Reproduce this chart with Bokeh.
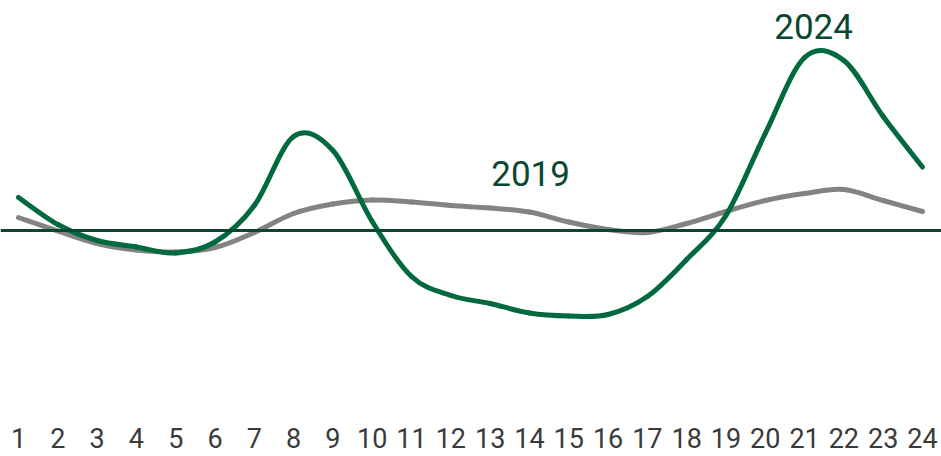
from bokeh.plotting import figure
from bokeh.models import Range1d, Span, Label, FixedTicker, ColumnDataSource
from bokeh.embed import file_html
from bokeh.resources import INLINE
import numpy as np

hours = list(range(1, 25))
tick_labels = [str(h) for h in hours]
series_2024 = [3.3, 0.6, -1.0, -1.65, -2.25, -1.15, 2.5, 9.4, 8.0, 0.9, -4.6, -6.5,
               -7.3, -8.25, -8.55, -8.4, -6.6, -2.9, 1.5, 9.7, 17.3, 17.0, 11.4, 6.35]
series_2019 = [1.3, -0.05, -1.3, -1.95, -2.15, -1.7, -0.2, 1.7, 2.65, 3.05, 2.85, 2.5,
               2.25, 1.85, 0.85, 0.1, -0.2, 0.7, 1.9, 3.0, 3.7, 4.1, 3.0, 1.9]

GREEN = "#00693E"
GRAY = "#838383"
DARK = "#0b4630"


def smooth_source(xs, ys):
    x = np.asarray(xs, dtype=float)
    y = np.asarray(ys, dtype=float)
    xp = np.concatenate([[x[0]], x, [x[-1]]])
    yp = np.concatenate([[y[0]], y, [y[-1]]])
    n = len(x) - 1
    d = dict(x0=[], y0=[], x1=[], y1=[], cx0=[], cy0=[], cx1=[], cy1=[])
    for i in range(n):
        j = i + 1
        d["x0"].append(xp[j]); d["y0"].append(yp[j])
        d["x1"].append(xp[j + 1]); d["y1"].append(yp[j + 1])
        d["cx0"].append(xp[j] + (xp[j + 1] - xp[j - 1]) / 6)
        d["cy0"].append(yp[j] + (yp[j + 1] - yp[j - 1]) / 6)
        d["cx1"].append(xp[j + 1] - (xp[j + 2] - xp[j]) / 6)
        d["cy1"].append(yp[j + 1] - (yp[j + 2] - yp[j]) / 6)
    return ColumnDataSource(d)


p = figure(width=941, height=456, output_backend="svg", toolbar_location=None,
           x_range=Range1d(0.542, 24.484), y_range=Range1d(-18.7, 23.0),
           min_border=0, min_border_bottom=39, outline_line_color=None)
p.background_fill_color = "white"
p.border_fill_color = "white"
p.grid.visible = False
p.yaxis.visible = False

xa = p.xaxis[0]
xa.ticker = FixedTicker(ticks=hours)
xa.major_label_overrides = {h: t for h, t in zip(hours, tick_labels)}
xa.axis_line_color = None
xa.major_tick_line_color = None
xa.minor_tick_line_color = None
xa.major_label_text_font = "Roboto"
xa.major_label_text_font_size = "27px"
xa.major_label_text_color = "#3a3a3a"
xa.major_label_standoff = 4

for ys, col in ((series_2019, GRAY), (series_2024, GREEN)):
    src = smooth_source(hours, ys)
    p.bezier(x0="x0", y0="y0", x1="x1", y1="y1", cx0="cx0", cy0="cy0",
             cx1="cx1", cy1="cy1", source=src, line_color=col, line_width=5,
             line_cap="round")

p.add_layout(Span(location=0, dimension="width", line_color=DARK, line_width=3))

p.add_layout(Label(x=21.23, y=20.4, text="2024", text_align="center",
                   text_baseline="middle", text_font="Roboto",
                   text_font_size="35px", text_color=DARK))
p.add_layout(Label(x=14.03, y=5.75, text="2019", text_align="center",
                   text_baseline="middle", text_font="Roboto",
                   text_font_size="35px", text_color=DARK))

open("out.html", "w").write(file_html(p, INLINE))
